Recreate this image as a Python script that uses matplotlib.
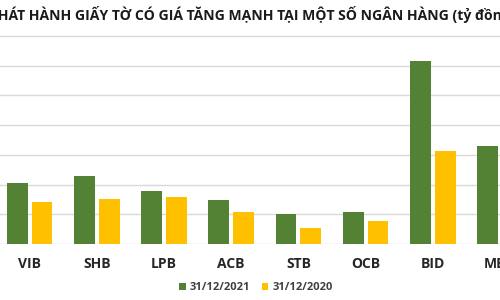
import matplotlib
matplotlib.use("Agg")
import matplotlib.pyplot as plt
import numpy as np

# Data (ty dong)
banks = ["VIB", "SHB", "LPB", "ACB", "STB", "OCB", "BID", "MBB"]
val_2021 = [20500, 22900, 17800, 14800, 10100, 10800, 61600, 33000]
val_2020 = [14100, 15200, 15800, 10800, 5400, 7700, 31300, 21000]
labels = ["31/12/2021", "31/12/2020"]
title = "PHÁT HÀNH GIẤY TỜ CÓ GIÁ TĂNG MẠNH TẠI MỘT SỐ NGÂN HÀNG (tỷ đồng)"

GREEN = "#548235"
YELLOW = "#FFC000"
GRID = "#d9d9d9"

plt.rcParams["font.family"] = ["Open Sans", "DejaVu Sans"]

fig = plt.figure(figsize=(5, 3), dpi=100)
# the original screenshot is cropped left and right: axes span the full width
ax = fig.add_axes([0, 56 / 300, 1, 210 / 300])

x = np.arange(len(banks))
w = 0.31
ax.bar(x - 0.185, val_2021, w, color=GREEN, label=labels[0], zorder=3)
ax.bar(x + 0.185, val_2020, w, color=YELLOW, label=labels[1], zorder=3)

step = 68.0
ax.set_xlim(-30 / step, -30 / step + 500 / step)
ax.set_ylim(0, 70000 * 210 / 208)
ax.set_yticks(np.arange(0, 70001, 10000))
ax.yaxis.grid(True, color=GRID, linewidth=1, zorder=0)
ax.set_xticks(x)
ax.set_xticklabels(banks, fontsize=10, fontweight="bold", color="#262626")
ax.tick_params(axis="x", length=0, pad=9)
ax.tick_params(axis="y", length=0, labelleft=False)
for s in ax.spines.values():
    s.set_visible(False)

fig.text(-0.022, 0.953, title, ha="left", va="center", fontsize=10.1,
         fontweight="bold", color="#1a1a1a")

leg = fig.legend(loc="center", bbox_to_anchor=(0.512, 0.04), ncol=2,
                 frameon=False, fontsize=8, handlelength=0.6, handleheight=0.6,
                 handletextpad=0.4, columnspacing=1.0)
for t in leg.get_texts():
    t.set_fontweight("bold")
    t.set_color("#404040")

fig.savefig("out.png", dpi=100)
